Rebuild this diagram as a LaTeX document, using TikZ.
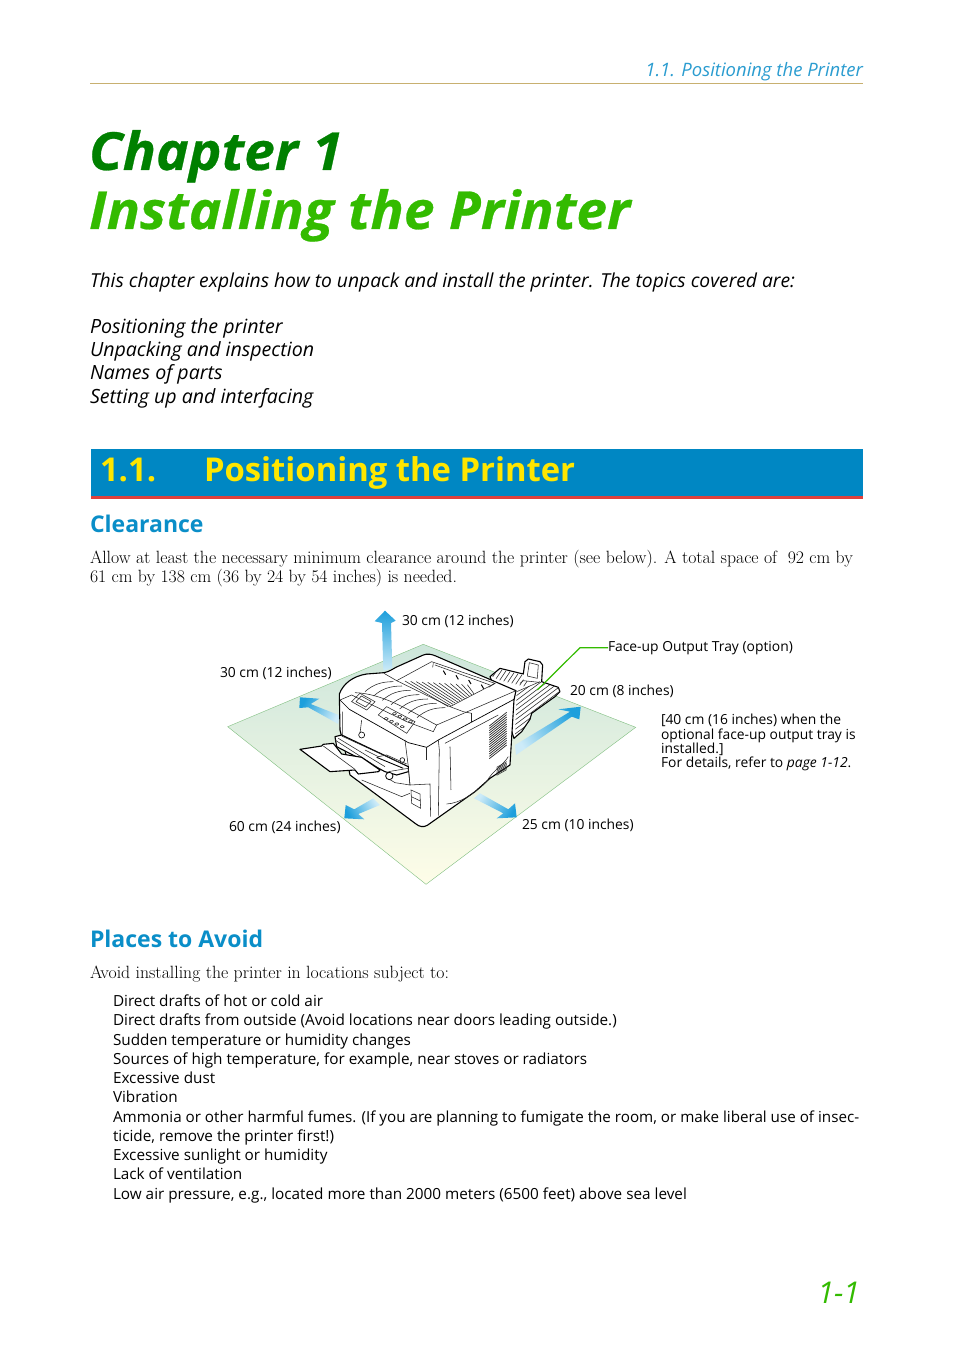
\documentclass[tikz,border=0pt]{standalone}
\usepackage{fontspec}
\newfontfamily\labelfont{Open Sans}
\newfontfamily\titlefont[FakeStretch=1.05,FakeBold=0.5]{Open Sans}
\usetikzlibrary{positioning}

\definecolor{headblue}{HTML}{2A9CD0}
\definecolor{rulegold}{HTML}{C8B070}
\definecolor{darkgreen}{HTML}{008000}
\definecolor{lightgreen}{HTML}{33BB00}
\definecolor{bannerblue}{HTML}{0087C3}
\definecolor{bannerred}{HTML}{E0403C}
\definecolor{banneryellow}{HTML}{FFE600}
\definecolor{subblue}{HTML}{0A8EC8}
\definecolor{arrowblue}{HTML}{1D9FDC}
\definecolor{arrowmid}{HTML}{4FB6E6}
\definecolor{arrowpale}{HTML}{CDEBF8}
\definecolor{floortop}{HTML}{CDE6DB}
\definecolor{floormid}{HTML}{E6F2E0}
\definecolor{floorlow}{HTML}{FEFDE8}

\tikzset{
	every node/.style={inner sep=0pt, outer sep=0pt},
	sanstext/.style={anchor=base west, font=\labelfont\fontsize{15.3}{19}\selectfont},
	serftext/.style={anchor=base west, font=\fontsize{17.75}{19}\selectfont},
	introtext/.style={anchor=base west, font=\labelfont\itshape\fontsize{19.6}{23}\selectfont},
	dimtext/.style={anchor=base west, font=\labelfont\fontsize{13.85}{14.5}\selectfont},
	subhead/.style={anchor=base west, text=subblue, font=\labelfont\bfseries\fontsize{23}{27}\selectfont},
	titletext/.style={anchor=base west, font=\titlefont\bfseries\itshape\fontsize{52.5}{60}\selectfont},
	blockarrow/.style={top color=arrowblue, middle color=arrowmid, bottom color=arrowpale},
	outline/.style={draw=black, fill=white, line width=1.1pt, line join=round},
	detail/.style={draw=black!85, line width=0.55pt},
}

\begin{document}
\begin{tikzpicture}[x=1pt,y=-1pt]
	\useasboundingbox[fill=white] (0,0) rectangle (954,1351);

	% running head
	\node[anchor=base east, text=headblue, font=\labelfont\itshape\fontsize{18.5}{22}\selectfont] (runhead) at (863,77) {1.1. Positioning the Printer};
	\draw[rulegold, line width=0.7pt] (90,83) -- (863,83);

	% chapter title
	\node[titletext, text=darkgreen] (chapter) at (89,170) {Chapter 1};
	\node[titletext, text=lightgreen] (title) at (89,229) {Installing the Printer};

	\node[introtext, font=\labelfont\itshape\fontsize{19.25}{23}\selectfont] (intro) at (90,287) {This chapter explains how to unpack and install the printer. The topics covered are:};
	\node[introtext] (topica) at (90,333) {Positioning the printer};
	\node[introtext] (topicb) at (90,356) {Unpacking and inspection};
	\node[introtext] (topicc) at (90,379) {Names of parts};
	\node[introtext] (topicd) at (90,403) {Setting up and interfacing};

	% section banner
	\fill[bannerblue] (91,449) rectangle (863,496);
	\fill[bannerred] (91,496) rectangle (863,499);
	\node[anchor=base west, text=banneryellow, font=\labelfont\bfseries\fontsize{32.8}{36}\selectfont] (secnum) at (100,481) {1.1.};
	\node[anchor=base west, text=banneryellow, font=\labelfont\bfseries\fontsize{32.8}{36}\selectfont] (secname) at (204,481) {Positioning the Printer};

	\node[subhead] (clearance) at (90,532) {Clearance};
	\node[serftext] (claima) at (90,563) {Allow at least the necessary minimum clearance around the printer (see below). A total space of \ 92 cm by};
	\node[serftext] (claimb) at (90,582) {61 cm by 138 cm (36 by 24 by 54 inches) is needed.};

	% floor
	\path[draw=black!50!green!50, line width=0.4pt, top color=floortop, middle color=floormid, bottom color=floorlow] (423.3,644.3) -- (635.7,727.3) -- (426,884.3) -- (227.7,726.7) -- cycle;

	% arrows
	\path[blockarrow] (385,610.7) -- (395.7,620.7) -- (391,623) -- (392.3,668.3) -- (383.3,670.7) -- (382,623) -- (374.7,621.3) -- cycle;
	\path[blockarrow, shading angle=62] (300,697.3) -- (319.3,698.7) -- (310.7,704) -- (339.3,715.3) -- (338.3,724) -- (308.3,707.3) -- (299.3,708) -- cycle;
	\path[blockarrow, shading angle=120] (344.3,818.3) -- (345.7,805) -- (354.3,809.3) -- (373.3,798.3) -- (380,805) -- (358.3,814) -- (364.3,819.3) -- cycle;
	\path[blockarrow, shading angle=240] (516.7,817.3) -- (496.7,818.3) -- (503.3,813.3) -- (474,798.3) -- (480,793.3) -- (508.3,809.3) -- (515,803.3) -- cycle;
	\path[blockarrow, shading angle=300] (580.7,706.7) -- (579.3,719.3) -- (571.7,716.7) -- (516,755) -- (515,745) -- (570,711.7) -- (558.3,709.3) -- cycle;

	% printer
	\begin{scope}[shift={(290,650)},x=0.3333pt,y=-0.3333pt]
		% rear tray
		\draw[outline] (600,80) -- (630,55) -- (700,72) -- (705,35) -- (715,27) -- (750,35) -- (758,45) -- (755,95) -- (805,112) -- (810,125) -- (795,140) -- (725,190) -- (720,208) -- (695,245) -- (672,265) -- (650,200) -- cycle;
		\draw[detail] (718,38) -- (745,45) -- (742,85) -- (712,78) -- cycle;
		\begin{scope}
			\clip (680,125) -- (750,95) -- (805,112) -- (810,125) -- (795,140) -- (725,190) -- (720,208) -- (695,245) -- (675,265) -- cycle;
			\foreach \i in {0,...,15} {
				\draw[detail] (670,130+14*\i) -- (820,18+14*\i);
			}
		\end{scope}
		\begin{scope}
			\clip (605,78) -- (630,58) -- (700,75) -- (700,92) -- (748,97) -- (680,122) -- cycle;
			\foreach \i in {0,...,8} {
				\draw[detail] (625+12*\i,55+3*\i) -- (605+12*\i,85+3*\i);
			}
		\end{scope}
		\draw[detail] (680,125) -- (750,95);
		\draw[detail] (690,100) -- (700,92) -- (748,97);
		% body
		\draw[outline] (148,132) .. controls (160,100) and (190,78) .. (230,72) -- (282,68) .. controls (300,65) and (310,55) .. (322,50) -- (400,15) .. controls (412,10) and (425,13) .. (435,17) -- (678,122) -- (672,150) -- (660,345) -- (600,385) -- (555,425) -- (412,526) .. controls (400,533) and (388,530) .. (378,522) -- (180,375) -- (165,300) -- (150,240) -- cycle;
		% top cover and exit recess
		\draw[detail] (320,92) -- (425,35) -- (615,100) -- (480,170);
		\draw[detail] (282,70) -- (320,92) -- (480,170) -- (520,185) -- (545,190);
		\draw[detail] (435,45) -- (600,105);
		\draw[detail] (430,40) -- (428,52) (615,100) -- (596,112);
		\foreach \i in {0,...,11} {
			\draw[detail] (345+17*\i,93+1*\i) -- (475+7*\i,170-3.5*\i);
		}
		\foreach \i in {0,1,2,3} {
			\draw[line width=1pt] (460+38*\i,62+14*\i) -- (467+38*\i,74+14*\i);
		}
		% ridges on top
		\foreach \i in {0,...,6} {
			\draw[detail] (225+26*\i,125+13*\i) .. controls (250+26*\i,103+13*\i) and (275+26*\i,95+13*\i) .. (310+26*\i,95+13*\i);
		}
		% top edge and corner
		\draw[detail] (195,128) .. controls (270,130) and (350,175) .. (430,220) -- (440,225) -- (678,122);
		\draw[detail] (150,150) -- (185,135) -- (350,215) -- (430,245) -- (440,225);
		\draw[detail] (545,190) -- (545,215);
		\draw[line width=0.7pt] (150,150) -- (178,178) -- (355,278) -- (410,292) -- (445,270) -- (672,148);
		\draw[detail] (445,270) -- (448,300) -- (445,497);
		\draw[detail] (410,292) -- (410,330);
		% panel and display
		\draw[detail] (185,155) -- (210,130) -- (255,155) -- (230,180) -- cycle;
		\draw[detail] (198,155) -- (214,138) -- (243,154) -- (227,171) -- cycle;
		\draw[detail] (265,195) -- (290,170) -- (375,215) -- (350,250) -- cycle;
		\foreach \i in {0,1,2,3} {
			\draw[detail, rounded corners=1pt] (308+16*\i,188+8*\i) rectangle +(11,6);
			\draw[detail, rounded corners=1pt] (283+16*\i,203+8*\i) rectangle +(11,6);
		}
		% side panel
		\draw[detail] (480,290) -- (483,420);
		\draw[detail] (465,280) -- (625,195);
		\draw[detail] (470,462) .. controls (510,460) and (555,430) .. (590,395) .. controls (605,365) and (640,345) .. (655,320);
		\foreach \i in {0,...,14} {
			\draw[detail, line width=0.7pt] (598,228+7*\i) -- (650,187+7*\i);
		}
		\foreach \i in {0,...,6} {
			\draw[detail] (620,352+4*\i) -- (650,335+4*\i);
		}
		% front
		\draw[detail] (158,185) -- (158,255) (215,210) -- (210,250);
		\draw[detail] (345,270) -- (355,350) -- (360,405) -- (420,402) -- (422,500);
		\draw[detail] (215,390) -- (335,440) -- (360,430);
		\draw[detail] (363,420) -- (390,432) -- (392,475) -- (365,460) -- cycle;
		\draw[detail] (364,440) -- (391,453);
		% paper feed tray
		\draw[outline] (135,260) -- (155,255) -- (355,350) -- (355,365) -- (320,375) -- (285,365) -- (140,290) -- cycle;
		\draw[detail] (135,270) -- (275,360);
		\draw[detail] (145,265) -- (285,350);
		\draw[detail] (155,258) -- (345,345);
		\draw[line width=0.9pt] (260,322) -- (340,355);
		\draw[detail] (225,300) -- (265,320) -- (290,315) -- (350,342);
		\draw[fill=white, line width=0.6pt] (215,255) circle (9);
		\draw[fill=white, line width=0.6pt] (337,330) circle (7);
		\draw[outline] (30,298) -- (95,288) -- (100,283) -- (130,280) -- (155,312) -- (215,322) -- (270,360) -- (265,365) -- (205,372) -- (195,360) -- (120,365) -- cycle;
		\draw[detail] (100,288) -- (195,358);
		\draw[fill=white, line width=0.8pt] (298,378) circle (11);
		\draw[detail] (295,365) -- (355,355) -- (360,405) -- (315,398) -- (300,389);
	\end{scope}

	% labels
	\node[dimtext] (toplabel) at (402,625) {30 cm (12 inches)};
	\node[dimtext] (leftlabel) at (220,677) {30 cm (12 inches)};
	\node[dimtext] (traylabel) at (608,651) {Face-up Output Tray (option)};
	\node[dimtext] (rearlabel) at (570,695) {20 cm (8 inches)};
	\node[dimtext] (frontlabel) at (229,831) {60 cm (24 inches)};
	\node[dimtext] (rightlabel) at (522,829) {25 cm (10 inches)};
	\node[dimtext] (notea) at (661,724) {[40 cm (16 inches) when the};
	\node[dimtext] (noteb) at (661,739) {optional face-up output tray is};
	\node[dimtext] (notec) at (661,753) {installed.]};
	\node[dimtext] (noted) at (661,767) {For details, refer to {\itshape page 1-12}.};

	% tray leader
	\coordinate (trayend) at (537.3,690);
	\draw[lightgreen, line width=1.2pt] (trayend) -- (580,647.7) -- (traylabel.west |- 0,647.7);

	\node[subhead] (places) at (90,947) {Places to Avoid};
	\node[serftext] (avoid) at (90,978) {Avoid installing the printer in locations subject to:};

	\node[sanstext] (placea) at (113,1006.5) {Direct drafts of hot or cold air};
	\node[sanstext] (placeb) at (113,1025.5) {Direct drafts from outside (Avoid locations near doors leading outside.)};
	\node[sanstext] (placec) at (113,1045) {Sudden temperature or humidity changes};
	\node[sanstext] (placed) at (113,1064) {Sources of high temperature, for example, near stoves or radiators};
	\node[sanstext] (placee) at (113,1083) {Excessive dust};
	\node[sanstext] (placef) at (113,1102.5) {Vibration};
	\node[sanstext, font=\labelfont\fontsize{15.2}{19}\selectfont] (placeg) at (113,1122) {Ammonia or other harmful fumes. (If you are planning to fumigate the room, or make liberal use of insec-};
	\node[sanstext] (placeh) at (113,1141) {ticide, remove the printer first!)};
	\node[sanstext] (placei) at (113,1160) {Excessive sunlight or humidity};
	\node[sanstext] (placej) at (113,1179.5) {Lack of ventilation};
	\node[sanstext] (placek) at (113,1199) {Low air pressure, e.g., located more than 2000 meters (6500 feet) above sea level};

	% folio
	\node[anchor=base east, text=lightgreen, font=\labelfont\itshape\fontsize{30}{36}\selectfont] (folio) at (860,1303) {1-1};
\end{tikzpicture}
\end{document}
